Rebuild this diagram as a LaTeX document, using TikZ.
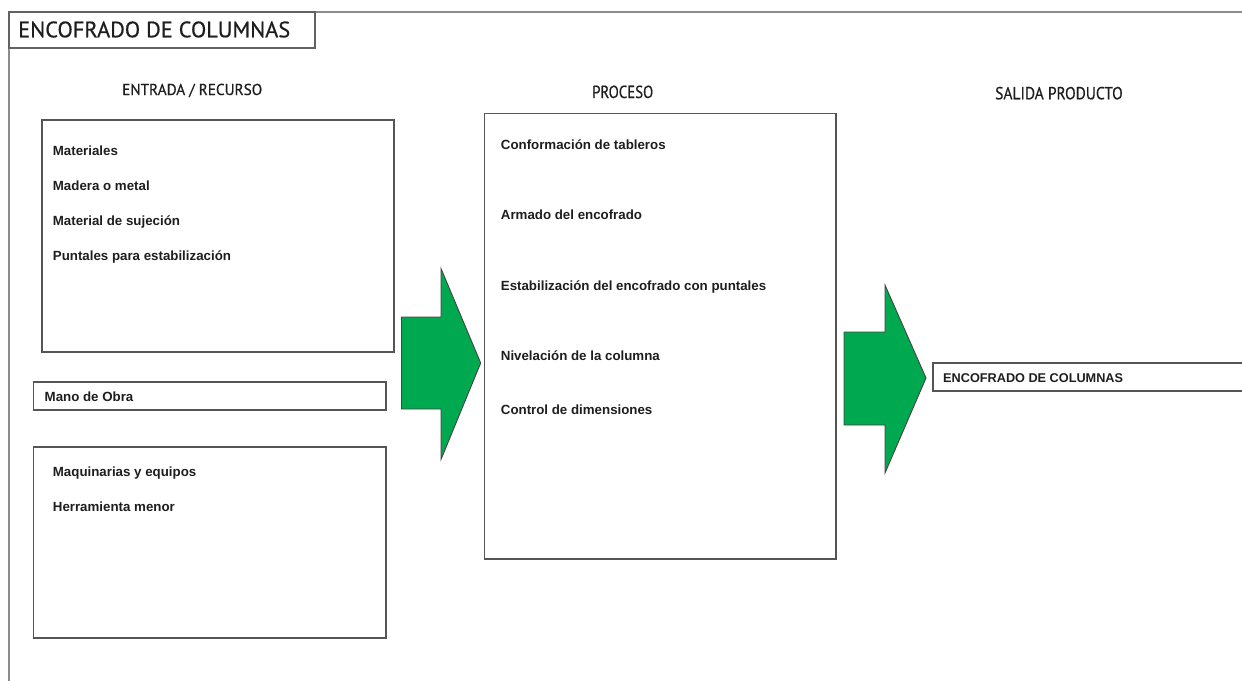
\documentclass[tikz,border=0pt]{standalone}
\usepackage{fontspec}
\setmainfont{Liberation Sans}
\newfontfamily\headfont[FakeBold=0.6]{PT Sans}
\usepackage{graphicx}

% squeeze text horizontally to a given width (in pt), keeping its height
\newcommand\squeezeto[2]{%
  \setbox0\hbox{#2}\dimen0=\wd0
  \pgfmathsetmacro\sqfactor{#1/\the\dimen0}%
  \scalebox{\sqfactor}[1]{\box0}}

\definecolor{framegray}{HTML}{8C8C8C}
\definecolor{boxgray}{HTML}{555555}
\definecolor{arrowgreen}{HTML}{00A94F}
\definecolor{inktext}{HTML}{1E1E1E}

\tikzset{
  frameline/.style={draw=framegray, line width=2pt},
  panel/.style={draw=boxgray, line width=1.5pt, fill=white},
  item/.style={anchor=base west, inner sep=0pt, text=inktext,
               font=\fontsize{13.3}{15}\selectfont\bfseries},
  heading/.style={anchor=base west, inner sep=0pt, text=inktext},
  blockarrow/.style={fill=arrowgreen, draw=boxgray!80!black, line width=0.9pt, line join=miter},
}

\begin{document}
\begin{tikzpicture}[x=1pt,y=-1pt]
\useasboundingbox (0,0) rectangle (1242,680);

% outer sheet frame (top and left edges)
\coordinate (frameTR) at (1246,12);
\coordinate (frameTL) at (9,12);
\coordinate (frameBL) at (9,684);
\draw[frameline] (frameTR) -- (frameTL) -- (frameBL);

% title tab
\draw[panel, line width=1.6pt, draw=framegray!70!black] (9,12) rectangle (315,48);
\node[heading] (title) at (18,37.3)
  {\squeezeto{272}{\headfont\fontsize{22.3}{26}\selectfont ENCOFRADO DE COLUMNAS}};

% column headings
\node[heading] (hin) at (122,95)
  {\squeezeto{140}{\headfont\fontsize{15.8}{18}\selectfont ENTRADA / RECURSO}};
\node[heading] (hproc) at (592,98)
  {\squeezeto{61}{\headfont\fontsize{17.5}{20}\selectfont PROCESO}};
\node[heading] (hout) at (995,99.3)
  {\squeezeto{127.5}{\headfont\fontsize{17.5}{20}\selectfont SALIDA PRODUCTO}};

% input panels
\draw[panel] (42,120) rectangle (394,352);
\node[item] (m1) at (52.7,155) {Materiales};
\node[item] (m2) at (52.7,190) {Madera o metal};
\node[item] (m3) at (52.7,225) {Material de sujeción};
\node[item] (m4) at (52.7,260.5) {Puntales para estabilización};

\draw[panel] (33.5,382) rectangle (386,410);
\node[item] (mo) at (44.5,401.5) {Mano de Obra};

\draw[panel] (33.5,447) rectangle (386,638);
\node[item] (q1) at (52.7,476.5) {Maquinarias y equipos};
\node[item] (q2) at (52.7,511.5) {Herramienta menor};

% process panel
\draw[panel] (484.5,113.5) rectangle (836,559);
\node[item] (p1) at (500.7,149) {Conformación de tableros};
\node[item] (p2) at (500.7,219) {Armado del encofrado};
\node[item] (p3) at (500.7,290) {Estabilización del encofrado con puntales};
\node[item] (p4) at (500.7,360.5) {Nivelación de la columna};
\node[item] (p5) at (500.7,414) {Control de dimensiones};

% green block arrows
\draw[blockarrow] (401.5,317) -- (441,317) -- (441,268.5) -- (480.7,363)
  -- (441,459.5) -- (441,409) -- (401.5,409) -- cycle;
\draw[blockarrow] (844,332) -- (885,332) -- (885,285) -- (926,378)
  -- (885,473) -- (885,425) -- (844,425) -- cycle;

% output panel
\draw[panel] (933,363) rectangle (1250,391);
\node[item, font=\fontsize{12.7}{15}\selectfont\bfseries] (out) at (943,382.5) {ENCOFRADO DE COLUMNAS};

\end{tikzpicture}
\end{document}
